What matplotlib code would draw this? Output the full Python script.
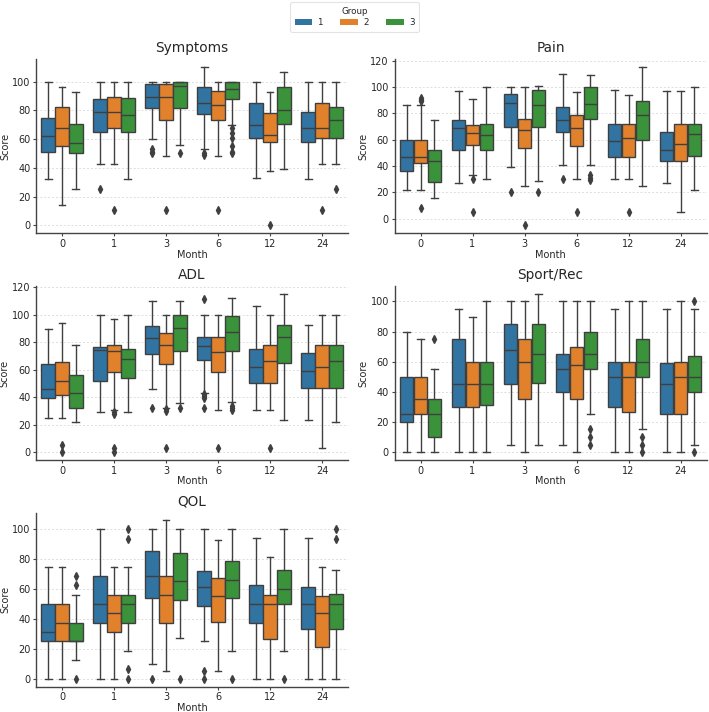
import matplotlib
matplotlib.use('Agg')
import matplotlib.pyplot as plt
from matplotlib.patches import Patch

MONTHS = ['0', '1', '3', '6', '12', '24']
GROUPS = ['1', '2', '3']
COLORS = ['#3274a1', '#e1812c', '#3a923a']
GRAY = '#3f3f3f'

# ---- Symptoms (rows: group 1,2,3; cols: months) ----
SYM_LO = [[32, 43, 60, 53, 33, 32], [14, 43, 48, 48, 38, 43], [25, 32, 56, 70, 39, 43]]
SYM_Q1 = [[51, 65, 81.5, 77.5, 61, 58], [55, 68, 73.5, 73, 58, 61], [50, 65, 81.5, 88, 70.5, 61]]
SYM_MED = [[62.5, 79, 89, 85, 70, 68], [68, 79, 89.5, 84, 63, 68], [57, 77, 97, 95, 80, 73.5]]
SYM_Q3 = [[75, 88, 98, 96, 85, 79], [82, 89.5, 98, 93.5, 78.5, 85], [70.5, 88.5, 100, 100, 96, 82]]
SYM_HI = [[100, 100, 100, 110, 100, 100], [96.5, 100, 100, 100, 93, 100], [93, 100, 100, 100, 106.5, 100]]
SYM_FL = [[[], [25], [53, 51, 50], [50, 49], [], []],
          [[], [10.5], [10.5], [10.5], [0], [10.5]],
          [[], [], [50], [68, 64, 61, 55, 51, 50], [], [25]]]

# ---- Pain ----
PAIN_LO = [[22, 27.5, 39, 40.5, 30, 27.5], [22, 33, 25, 30, 30, 5.5], [16, 30, 28.5, 40.5, 25, 22]]
PAIN_Q1 = [[36, 52, 70, 65.5, 47, 44], [42, 56, 54, 55.5, 47, 44], [28, 52, 70, 75.5, 60, 48]]
PAIN_MED = [[47, 69, 88, 75, 59, 52.5], [47, 65, 67, 69, 61, 57], [44, 63.5, 86, 87, 79, 64]]
PAIN_Q3 = [[60, 75, 95, 85, 72, 66], [60, 71, 75.5, 79, 72, 72], [52, 72, 98, 100, 89, 72]]
PAIN_HI = [[86, 97, 100, 110, 98, 97], [86, 91, 100, 96, 94, 97], [75, 100, 100.5, 109, 115, 100]]
PAIN_FL = [[[], [], [20.5], [30], [], []],
           [[92, 90.5, 89, 8], [30, 5], [-5], [5], [5], []],
           [[], [], [20.5], [33, 31, 29.5], [], []]]

# ---- ADL ----
ADL_LO = [[24.7, 29.3, 45.6, 42.7, 30.7, 23.5], [24.7, 30.7, 32, 30.7, 30.7, 3], [22, 29.3, 35.5, 36.7, 23.5, 22]]
ADL_Q1 = [[39, 52, 71.3, 67.2, 50.4, 46.8], [41.5, 58.3, 64.3, 58.3, 50.4, 46.8], [32.4, 54, 73.7, 73.7, 64.8, 46.8]]
ADL_MED = [[45.6, 74, 82.8, 76.8, 62, 58.8], [51.4, 73.7, 78, 72.5, 66.5, 62], [42.7, 68, 90, 87, 84, 66]]
ADL_Q3 = [[64.3, 76.3, 91.7, 84, 75, 72], [65.5, 77.5, 86.9, 83.5, 77.5, 77.5], [55.7, 75, 100, 99, 92.4, 77.5]]
ADL_HI = [[89.5, 100, 109.7, 100, 106, 92.4], [94, 96.7, 100, 100, 100, 100], [77.5, 100, 109.7, 112, 115, 100]]
ADL_FL = [[[], [], [32], [111.5, 42, 40.5, 39, 32], [], []],
          [[4.8, 0], [29, 28, 3, 0], [31, 30, 3], [3], [3], []],
          [[], [], [32], [33.5, 32, 30.5], [], []]]

# ---- Sport/Rec ----
SPORT_LO = [[0, 0, 5, 5, 0, 0], [0, 0, 0, 0, 0, 0], [0, 0, 5, 25, 15, 5]]
SPORT_Q1 = [[20, 30, 45, 40, 30, 25], [25, 30, 35, 35, 26.5, 25], [10, 31, 46, 55, 50, 40]]
SPORT_MED = [[25, 45, 67.5, 55, 50, 45], [35, 45, 60, 57.5, 50, 50], [25, 45, 65, 65, 60, 50]]
SPORT_Q3 = [[50, 75, 85, 65, 60, 59], [50, 60, 75, 70, 60, 60], [35, 60, 85, 80, 75, 64]]
SPORT_HI = [[80, 95, 100, 100, 95, 95], [75, 90, 100, 100, 100, 100], [55, 100, 105, 100, 100, 95]]
SPORT_FL = [[[], [], [], [], [], []],
            [[], [], [], [], [], []],
            [[75], [], [], [15, 10, 5], [10, 5, 0], [100, 0]]]

# ---- QOL ----
QOL_LO = [[0, 0, 10, 25, 0, 0], [0, 0, 5.3, 5.3, 0, 0], [12.5, 18.75, 27.5, 18.75, 18.75, 0]]
QOL_Q1 = [[25, 37.5, 54, 48.7, 37.5, 33], [25, 31.25, 37, 38, 26.6, 21], [25, 37.5, 52.6, 54, 50, 33]]
QOL_MED = [[31.25, 50, 69, 61.4, 50, 50], [37.5, 43.75, 56, 55.3, 50, 43.75], [25, 50, 65.6, 66.4, 60, 50]]
QOL_Q3 = [[50, 69, 85.5, 72, 62.7, 61.4], [50, 56.25, 69, 67.5, 56.25, 55.3], [37.5, 56.25, 84.4, 79, 73, 56.6]]
QOL_HI = [[75, 100, 100, 100, 94, 94], [75, 75, 106, 93, 81.25, 75], [56, 75, 100, 100, 100, 73]]
QOL_FL = [[[], [], [0], [5.3, 0], [], []],
          [[], [], [], [], [], []],
          [[69, 62.5, 0], [100, 93.75, 6.25, 0], [0], [0], [0], [100, 93.75]]]

PANELS = [
    ("Symptoms", SYM_LO, SYM_Q1, SYM_MED, SYM_Q3, SYM_HI, SYM_FL, [0, 20, 40, 60, 80, 100]),
    ("Pain", PAIN_LO, PAIN_Q1, PAIN_MED, PAIN_Q3, PAIN_HI, PAIN_FL, [0, 20, 40, 60, 80, 100, 120]),
    ("ADL", ADL_LO, ADL_Q1, ADL_MED, ADL_Q3, ADL_HI, ADL_FL, [0, 20, 40, 60, 80, 100, 120]),
    ("Sport/Rec", SPORT_LO, SPORT_Q1, SPORT_MED, SPORT_Q3, SPORT_HI, SPORT_FL, [0, 20, 40, 60, 80, 100]),
    ("QOL", QOL_LO, QOL_Q1, QOL_MED, QOL_Q3, QOL_HI, QOL_FL, [0, 20, 40, 60, 80, 100]),
]

W, H = 709, 712
fig = plt.figure(figsize=(W / 100, H / 100), dpi=100)
fig.patch.set_facecolor('white')

AX_W = 312 / W
AX_H = 174 / H
LEFTS = [36 / W, 394.5 / W]
BOTTOMS = [1 - 233.3 / H, 1 - 460 / H, 1 - 686.5 / H]

LW = 1.0
each = 0.8 / 3
offsets = [-each, 0.0, each]
TEXTC = '#262626'

for i, (title, lo, q1, med, q3, hi, fl, yt) in enumerate(PANELS):
    r, c = divmod(i, 2)
    ax = fig.add_axes([LEFTS[c], BOTTOMS[r], AX_W, AX_H])
    for g in range(3):
        stats = []
        for m in range(len(MONTHS)):
            stats.append(dict(whislo=lo[g][m], q1=q1[g][m], med=med[g][m], q3=q3[g][m],
                              whishi=hi[g][m], fliers=fl[g][m]))
        pos = [m + offsets[g] for m in range(len(MONTHS))]
        ax.bxp(stats, positions=pos, widths=each * 0.98, patch_artist=True, showfliers=True,
               manage_ticks=False,
               boxprops=dict(facecolor=COLORS[g], edgecolor=GRAY, linewidth=LW),
               whiskerprops=dict(color=GRAY, linewidth=LW),
               capprops=dict(color=GRAY, linewidth=LW),
               medianprops=dict(color=GRAY, linewidth=LW),
               flierprops=dict(marker='d', markerfacecolor=GRAY, markeredgecolor=GRAY,
                               markersize=4, linestyle='none'))
    ax.set_xlim(-0.5, len(MONTHS) - 0.5)
    ax.set_xticks(range(len(MONTHS)))
    ax.set_xticklabels(MONTHS)
    ax.set_yticks(yt)
    ax.margins(y=0.05)
    ax.set_axisbelow(True)
    ax.yaxis.grid(True, linestyle=(0, (2, 2)), color='#dddddd', linewidth=0.7)
    ax.xaxis.grid(False)
    for s in ['top', 'right']:
        ax.spines[s].set_visible(False)
    for s in ['left', 'bottom']:
        ax.spines[s].set_color('#444444')
        ax.spines[s].set_linewidth(1.0)
    ax.tick_params(labelsize=7.0, colors='#444444', labelcolor=TEXTC, length=2, width=0.8, pad=2)
    ax.set_title(title, fontsize=9.8, color=TEXTC, pad=5)
    ax.set_xlabel('Month', fontsize=7.0, color=TEXTC, labelpad=0.5)
    ax.set_ylabel('Score', fontsize=7.0, color=TEXTC, labelpad=1.5)

handles = [Patch(facecolor=COLORS[g], edgecolor='none') for g in range(3)]
leg = fig.legend(handles, GROUPS, title='Group', loc='upper center', bbox_to_anchor=(0.5, 0.998),
                 ncol=3, fontsize=6.3, title_fontsize=6.3, frameon=True, handlelength=2.0,
                 columnspacing=2.0, handletextpad=0.6, borderpad=0.5, labelspacing=0.3,
                 borderaxespad=0.1)
leg.get_frame().set_edgecolor('#dddddd')
leg.get_frame().set_linewidth(0.8)
for t in leg.get_texts():
    t.set_color(TEXTC)
leg.get_title().set_color(TEXTC)

fig.savefig('out.png', dpi=100, facecolor='white')
